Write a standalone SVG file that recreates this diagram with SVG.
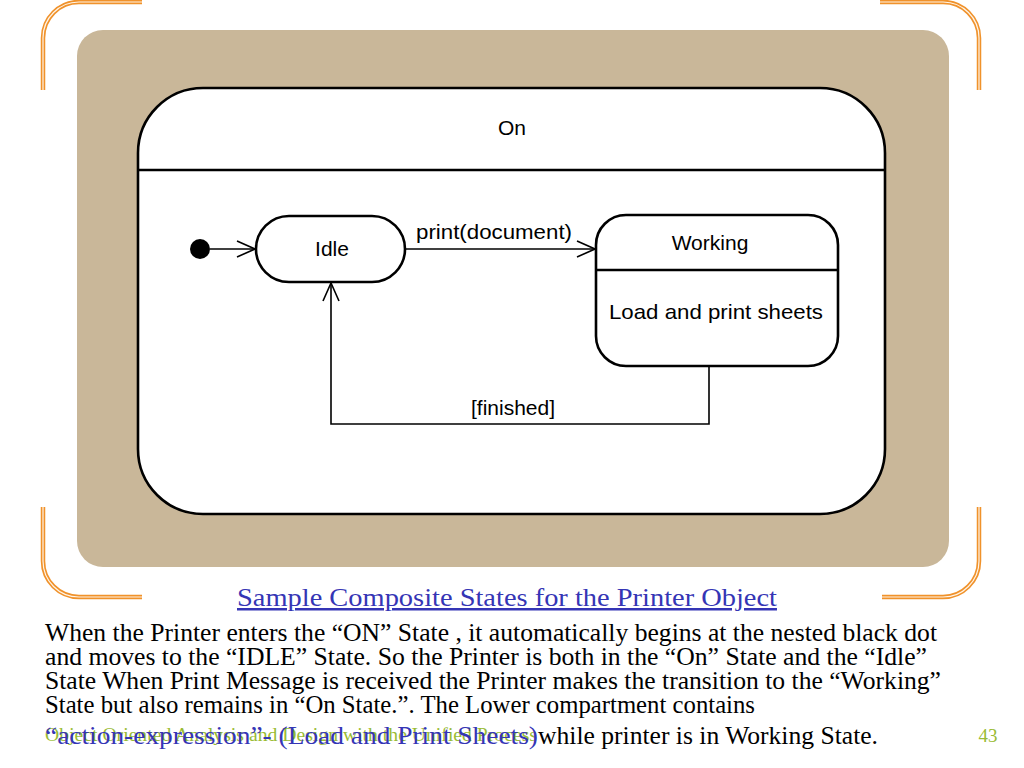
<svg xmlns="http://www.w3.org/2000/svg" width="1024" height="768" viewBox="0 0 1024 768">
<style>
.orn{fill:none;stroke:#F0922B;stroke-width:4.5}
.orc{fill:none;stroke:#FFF4E6;stroke-width:1.2}
.st{fill:#fff;stroke:#000;stroke-width:2.6}
.div{stroke:#000;stroke-width:2.6}
.lbl{font-family:"Liberation Sans",Arial,sans-serif;font-size:21px;fill:#000;text-anchor:middle}
.con{fill:none;stroke:#000;stroke-width:1.6}
.body{font-family:"Liberation Serif","Times New Roman",serif;font-size:25px;fill:#000}
.blue{fill:#3535B5}
.green{font-family:"Liberation Serif","Times New Roman",serif;fill:#99BB33}
</style>
<defs>
<marker id="open" viewBox="0 0 20 20" refX="19" refY="10" markerWidth="20" markerHeight="20" markerUnits="userSpaceOnUse" orient="auto">
<path d="M1,2 L19,10 L1,18" fill="none" stroke="#000" stroke-width="1.6"/>
</marker>
</defs>
<rect width="1024" height="768" fill="#fff"/>
<g id="corners">
<path class="orn" d="M43,90 V38 A36,36 0 0 1 79,2 H142"/>
<path class="orc" d="M43,90 V38 A36,36 0 0 1 79,2 H142"/>
<path class="orn" d="M880,2 H943 A36,36 0 0 1 979,38 V90"/>
<path class="orc" d="M880,2 H943 A36,36 0 0 1 979,38 V90"/>
<path class="orn" d="M43,507 V561 A36,36 0 0 0 79,597 H142"/>
<path class="orc" d="M43,507 V561 A36,36 0 0 0 79,597 H142"/>
<path class="orn" d="M979,507 V561 A36,36 0 0 1 943,597 H882"/>
<path class="orc" d="M979,507 V561 A36,36 0 0 1 943,597 H882"/>
</g>
<rect x="77" y="30" width="872" height="537" rx="26" fill="#C9B799"/>
<g id="on">
<rect class="st" x="138" y="88" width="747" height="426" rx="65"/>
<line class="div" x1="138" y1="170" x2="885" y2="170"/>
<text class="lbl" x="512" y="135">On</text>
</g>
<g id="initial">
<circle cx="200" cy="249" r="10" fill="#000"/>
</g>
<g id="idle">
<rect class="st" x="256" y="216" width="149" height="66" rx="33"/>
<text class="lbl" x="332" y="256">Idle</text>
</g>
<g id="working">
<rect class="st" x="596" y="215" width="242" height="151" rx="30"/>
<line class="div" x1="596" y1="270" x2="838" y2="270"/>
<text class="lbl" x="710" y="250">Working</text>
<text class="lbl" x="716" y="319" textLength="214" lengthAdjust="spacingAndGlyphs">Load and print sheets</text>
</g>
<g id="connectors">
<line class="con" x1="210" y1="249" x2="255" y2="249" marker-end="url(#open)"/>
<line class="con" x1="405" y1="249" x2="595" y2="249" marker-end="url(#open)"/>
<text class="lbl" x="494" y="239" textLength="156" lengthAdjust="spacingAndGlyphs">print(document)</text>
<polyline class="con" points="709,366 709,424 331,424 331,283" marker-end="url(#open)"/>
<text class="lbl" x="513" y="415">[finished]</text>
</g>
<g id="caption">
<text x="507" y="606" font-family="Liberation Serif,'Times New Roman',serif" font-size="25" text-anchor="middle" fill="#3535B5" text-decoration="underline" textLength="540" lengthAdjust="spacingAndGlyphs">Sample Composite States for the Printer Object</text>
</g>
<g id="footer">
<text class="green" x="45" y="741" font-size="18" textLength="492" lengthAdjust="spacingAndGlyphs">Object Oriented Analysis and Design with the Unified Process</text>
<text class="green" x="988" y="742" font-size="19" text-anchor="middle">43</text>
</g>
<g id="body">
<text class="body" x="45" y="641" textLength="892" lengthAdjust="spacingAndGlyphs">When the Printer enters the “ON” State , it automatically begins at the nested black dot</text>
<text class="body" x="45" y="665" textLength="882" lengthAdjust="spacingAndGlyphs">and moves to the “IDLE” State. So the Printer is both in the “On” State and the “Idle”</text>
<text class="body" x="45" y="689" textLength="896" lengthAdjust="spacingAndGlyphs">State When Print Message is received the Printer makes the transition to the “Working”</text>
<text class="body" x="45" y="713" textLength="710" lengthAdjust="spacingAndGlyphs">State but also remains in “On State.”.  The Lower compartment contains</text>
<text class="body blue" x="45" y="744" textLength="493" lengthAdjust="spacingAndGlyphs">“action-expression”- (Load and Print Sheets)</text>
<text class="body" x="538" y="744" textLength="340" lengthAdjust="spacingAndGlyphs"> while printer is in Working State.</text>
</g>
</svg>
